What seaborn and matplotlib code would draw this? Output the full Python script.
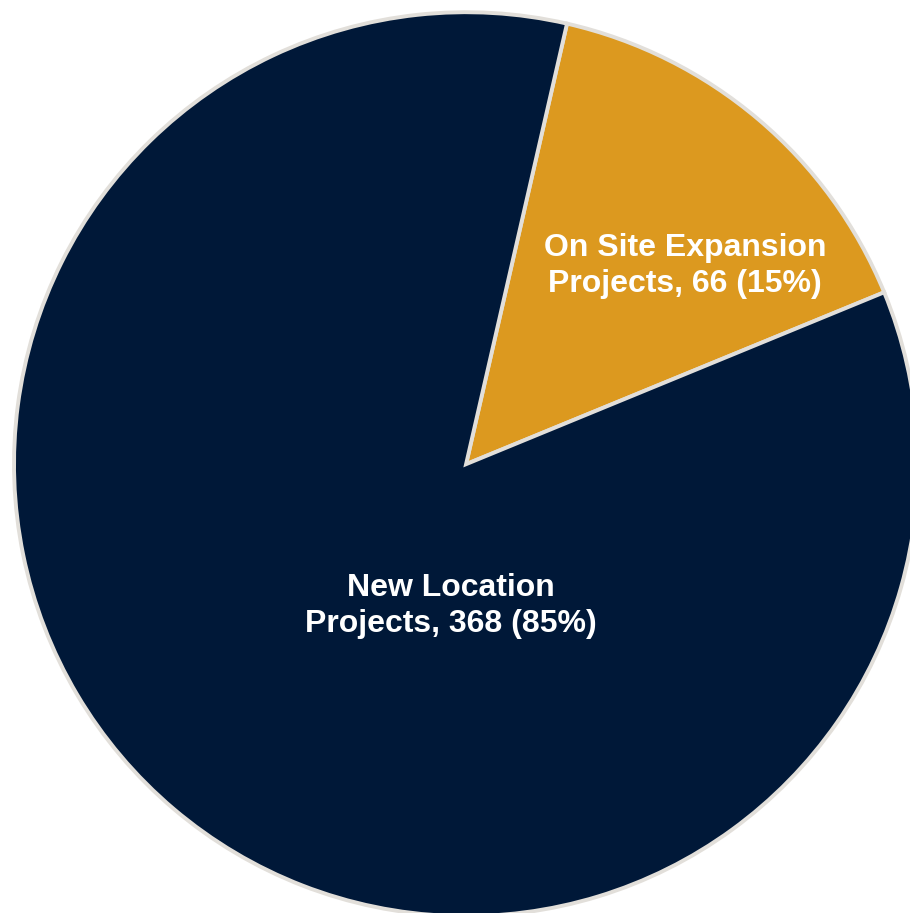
import matplotlib
matplotlib.use("Agg")
import matplotlib.pyplot as plt
import seaborn as sns

# Project counts by type
categories = ["On Site Expansion\nProjects", "New Location\nProjects"]
counts = [66, 368]
colors = ["#DC991F", "#001838"]

sns.set_theme(style="white")
plt.rcParams['font.family'] = ['Liberation Sans', 'DejaVu Sans']

fig = plt.figure(figsize=(9.1, 9.13), dpi=100)
ax = fig.add_axes([0, 0, 1, 1])

total = sum(counts)
labels = [f"{c}, {v} ({round(100 * v / total)}%)" for c, v in zip(categories, counts)]

wedges, texts = ax.pie(
    counts,
    labels=labels,
    colors=colors,
    startangle=77.1,
    counterclock=False,
    wedgeprops=dict(edgecolor="#E2DFDA", linewidth=2.8),
    textprops=dict(color="white", fontsize=23, fontweight="bold",
                   ha="center", va="center", linespacing=1.25),
    labeldistance=0.6,
)

# Excel-style label placement inside the slices
label_pos = [(0.485, 0.438), (-0.033, -0.313)]
for t, pos in zip(texts, label_pos):
    t.set_position(pos)
    t.set_ha("center")
    t.set_va("center")

ax.set_aspect("auto")
ax.set_xlim(-1.031, 0.982)
ax.set_ylim(-0.993, 1.027)
ax.axis("off")

fig.savefig("out.png", dpi=100, facecolor="white")
